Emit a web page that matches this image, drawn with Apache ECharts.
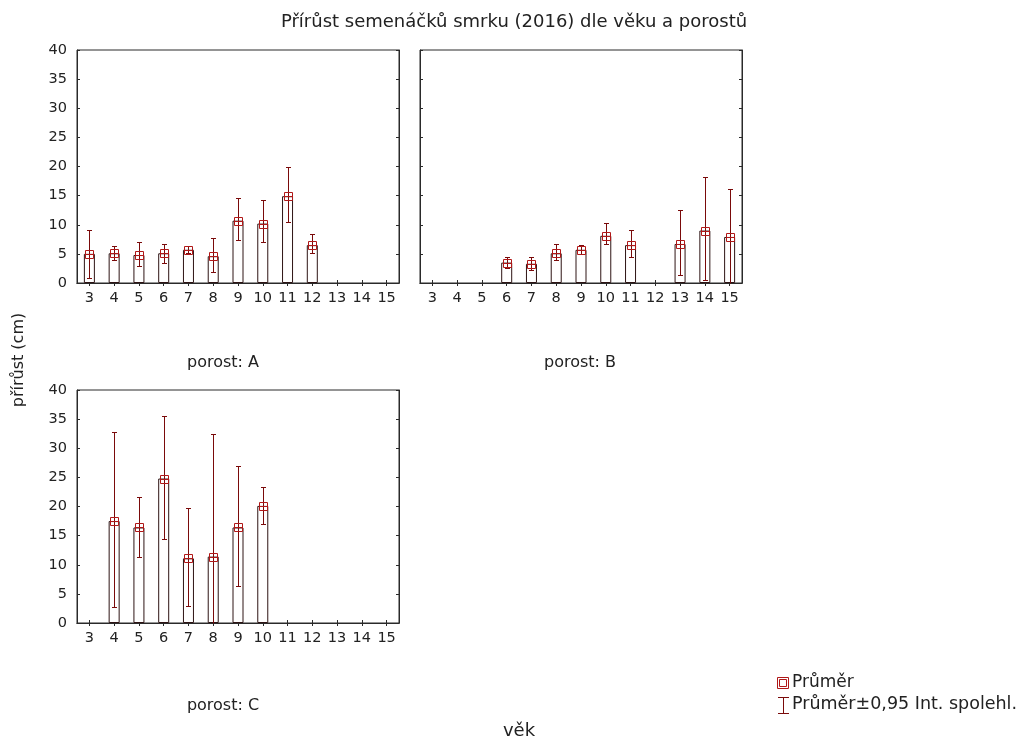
<!DOCTYPE html>
<html>
<head>
<meta charset="utf-8">
<title>Přírůst semenáčků smrku</title>
<script src="https://cdn.jsdelivr.net/npm/echarts@6/dist/echarts.min.js"></script>
<style>
  html, body { margin: 0; padding: 0; background: #fff; }
  #chart { width: 1027px; height: 743px; }
</style>
</head>
<body>
<div id="chart"></div>
<script>
// ages (věk) on every panel
var ages = ['3', '4', '5', '6', '7', '8', '9', '10', '11', '12', '13', '14', '15'];

// porost A
var meanA = [5.0, 5.1, 4.8, 5.1, 5.7, 4.6, 10.7, 10.2, 14.9, 6.5, null, null, null];
var lowA  = [0.9, 4.0, 2.9, 3.5, 5.1, 1.9, 7.3, 7.0, 10.4, 5.1, null, null, null];
var highA = [9.1, 6.3, 7.0, 6.7, 6.4, 7.8, 14.6, 14.2, 19.9, 8.4, null, null, null];

// porost B
var meanB = [null, null, null, 3.5, 3.3, 5.1, 5.7, 8.1, 6.5, null, 6.7, 9.0, 7.9];
var lowB  = [null, null, null, 2.6, 2.3, 4.0, 5.0, 6.7, 4.4, null, 1.4, 0.6, -0.5];
var highB = [null, null, null, 4.5, 4.5, 6.7, 6.5, 10.3, 9.1, null, 12.6, 18.2, 16.2];

// porost C
var meanC = [null, 17.5, 16.4, 24.8, 11.1, 11.4, 16.4, 20.1, null, null, null, null, null];
var lowC  = [null, 2.7, 11.4, 14.5, 3.0, -1.0, 6.3, 17.0, null, null, null, null, null];
var highC = [null, 32.8, 21.6, 35.6, 19.7, 32.5, 27.0, 23.3, null, null, null, null, null];

var panels = [
  { name: 'porost: A', mean: meanA, low: lowA, high: highA, left: 77, top: 50, showY: true },
  { name: 'porost: B', mean: meanB, low: lowB, high: highB, left: 420, top: 50, showY: false },
  { name: 'porost: C', mean: meanC, low: lowC, high: highC, left: 77, top: 390, showY: true }
];

var textColor = '#222';
var frameColor = '#2a2a2a';
var barBorder = '#2e1414';
var errColor = '#7a0a0a';
var markColor = '#b01818';
var fontFam = 'DejaVu Sans, Liberation Sans, sans-serif';

function px(v) { return Math.round(v) + 0.5; }

// error bar + mean marker drawn as two paths per item
function renderItem(params, api) {
  var x = api.value(0);
  var m = api.value(1);
  var lo = api.value(2);
  var hi = api.value(3);
  var pLo = api.coord([x, Math.max(lo, 0)]);
  var pHi = api.coord([x, hi]);
  var pM = api.coord([x, m]);
  var cx = px(pM[0]);
  var yLo = px(pLo[1]), yHi = px(pHi[1]), yM = px(pM[1]);
  var err = 'M' + cx + ',' + yHi + 'V' + yLo +
            'M' + (cx - 2.5) + ',' + yHi + 'H' + (cx + 2.5);
  if (lo >= 0) err += 'M' + (cx - 2.5) + ',' + yLo + 'H' + (cx + 2.5);
  var mk = 'M' + (cx - 4) + ',' + (yM - 4) + 'H' + (cx + 4) + 'V' + (yM + 4) +
           'H' + (cx - 4) + 'Z' + 'M' + (cx - 4) + ',' + yM + 'H' + (cx + 4);
  return {
    type: 'group',
    children: [
      { type: 'path', shape: { pathData: err }, style: { fill: null, stroke: errColor, lineWidth: 1 } },
      { type: 'path', shape: { pathData: mk }, style: { fill: null, stroke: markColor, lineWidth: 1 } }
    ]
  };
}

var grids = [], xAxes = [], yAxes = [], series = [];
var axisLabelStyle = { color: textColor, fontSize: 14.5, fontFamily: fontFam };

panels.forEach(function (pn, gi) {
  grids.push({ left: pn.left, top: pn.top, width: 322, height: 233, show: true, borderColor: frameColor, borderWidth: 1, backgroundColor: '#fff' });

  // bottom and top category axes
  xAxes.push({
    type: 'category', gridIndex: gi, data: ages, position: 'bottom',
    axisLine: { show: true, lineStyle: { color: frameColor } },
    axisTick: { show: true, inside: true, length: 3, alignWithLabel: true, lineStyle: { color: frameColor } },
    axisLabel: Object.assign({ margin: 8, interval: 0 }, axisLabelStyle),
    splitLine: { show: false }
  });
  xAxes.push({
    type: 'category', gridIndex: gi, data: ages, position: 'top',
    axisLine: { show: true, lineStyle: { color: frameColor } },
    axisTick: { show: true, inside: true, length: 3, alignWithLabel: true, interval: 0, lineStyle: { color: frameColor } },
    axisLabel: { show: false }, splitLine: { show: false }
  });
  // left and right value axes
  yAxes.push({
    type: 'value', gridIndex: gi, min: 0, max: 40, interval: 5, position: 'left',
    axisLine: { show: true, lineStyle: { color: frameColor } },
    axisTick: { show: true, inside: true, length: 3, lineStyle: { color: frameColor } },
    axisLabel: Object.assign({ show: pn.showY, margin: 10 }, axisLabelStyle),
    splitLine: { show: false }
  });
  yAxes.push({
    type: 'value', gridIndex: gi, min: 0, max: 40, interval: 5, position: 'right',
    axisLine: { show: true, lineStyle: { color: frameColor } },
    axisTick: { show: true, inside: true, length: 3, lineStyle: { color: frameColor } },
    axisLabel: { show: false }, splitLine: { show: false }
  });

  var xi = gi * 2, yi = gi * 2;
  var statData = [];
  for (var i = 0; i < ages.length; i++) {
    if (pn.mean[i] == null) continue;
    statData.push([i, pn.mean[i], pn.low[i], pn.high[i]]);
  }

  series.push({
    type: 'bar', xAxisIndex: xi, yAxisIndex: yi, data: pn.mean, barWidth: 11,
    itemStyle: { color: '#fff', borderColor: barBorder, borderWidth: 1 },
    silent: true, animation: false
  });
  series.push({
    type: 'custom', name: pn.name, xAxisIndex: xi, yAxisIndex: yi,
    data: statData, renderItem: renderItem, silent: true, animation: false, z: 5,
    emphasis: { disabled: true }
  });
});

function label(x, y, s, size) {
  return {
    type: 'text', x: x, y: y,
    style: { text: s, fill: textColor, font: size + 'px ' + fontFam, align: 'center', verticalAlign: 'middle' }
  };
}

var graphics = [
  label(514, 22, 'Přírůst semenáčků smrku (2016) dle věku a porostů', 18),
  label(223, 363, 'porost: A', 16),
  label(580, 363, 'porost: B', 16),
  label(223, 706, 'porost: C', 16),
  label(519, 731, 'věk', 18),
  {
    type: 'text', x: 19, y: 360, rotation: Math.PI / 2,
    style: { text: 'přírůst (cm)', fill: textColor, font: '16px ' + fontFam, align: 'center', verticalAlign: 'middle' }
  },
  // legend: mean marker
  { type: 'rect', shape: { x: 777.5, y: 677.5, width: 11, height: 11 }, style: { fill: 'none', stroke: markColor, lineWidth: 1 } },
  { type: 'rect', shape: { x: 779.5, y: 679.5, width: 7, height: 7 }, style: { fill: 'none', stroke: markColor, lineWidth: 1 } },
  { type: 'text', x: 792, y: 683, style: { text: 'Průměr', fill: textColor, font: '17px ' + fontFam, verticalAlign: 'middle' } },
  // legend: error bar
  { type: 'line', shape: { x1: 783.5, y1: 697, x2: 783.5, y2: 714 }, style: { stroke: errColor, lineWidth: 1 } },
  { type: 'line', shape: { x1: 778, y1: 697.5, x2: 789, y2: 697.5 }, style: { stroke: errColor, lineWidth: 1 } },
  { type: 'line', shape: { x1: 778, y1: 713.5, x2: 789, y2: 713.5 }, style: { stroke: errColor, lineWidth: 1 } },
  { type: 'text', x: 792, y: 704, style: { text: 'Průměr±0,95 Int. spolehl.', fill: textColor, font: '17.5px ' + fontFam, verticalAlign: 'middle' } }
];

var chart = echarts.init(document.getElementById('chart'), null, { renderer: 'canvas' });
chart.setOption({
  animation: false,
  backgroundColor: '#fff',
  grid: grids,
  xAxis: xAxes,
  yAxis: yAxes,
  series: series,
  graphic: graphics
});
</script>
</body>
</html>
